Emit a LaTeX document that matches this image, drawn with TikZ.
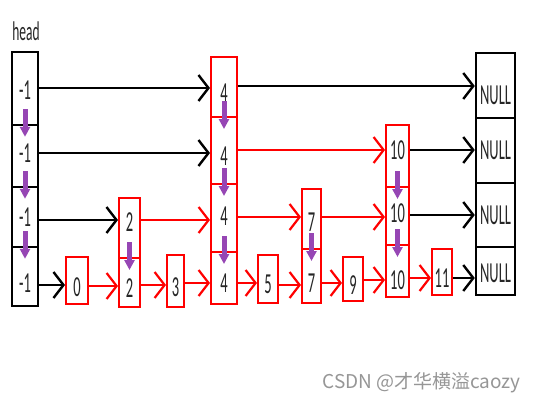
\documentclass[tikz,border=0pt]{standalone}
\usepackage{fontspec}
\setmainfont{Carlito}
\newfontfamily\lblfont{Carlito}[FakeStretch=0.5]
\newfontfamily\cjkfont{Noto Sans CJK SC}
\usetikzlibrary{arrows.meta,fit}
\definecolor{pur}{RGB}{150,70,180}
\definecolor{wm}{RGB}{150,150,150}
\begin{document}
\begin{tikzpicture}[x=0.5pt,y=-0.5pt,
  blkbox/.style={draw=black,line width=1.2pt,inner sep=0pt},
  redbox/.style={draw=red,line width=1pt,inner sep=0pt},
  lbl/.style={font=\lblfont\fontsize{14.5}{16}\selectfont,inner sep=0pt,text=black!85},
  blkarr/.style={draw=black,line width=1.2pt,-{Straight Barb[length=5pt,width=13pt]}},
  redarr/.style={draw=red,line width=1.1pt,-{Straight Barb[length=5pt,width=13pt]}},
  parr/.style={draw=pur,line width=2.5pt,-{Triangle[length=5pt,width=5pt]}},
]
\useasboundingbox (0,0) rectangle (536,402);
\fill[white] (0,0) rectangle (536,402);
% head column
\node[blkbox,fit={(12,52)(38,125)}] (h3) {};
\node[blkbox,fit={(12,125)(38,187)}] (h2) {};
\node[blkbox,fit={(12,187)(38,247)}] (h1) {};
\node[blkbox,fit={(12,247)(38,306)}] (h0) {};
% NULL column
\node[blkbox,fit={(476,53)(515,118)}] (n3) {};
\node[blkbox,fit={(476,118)(515,183)}] (n2) {};
\node[blkbox,fit={(476,183)(515,247)}] (n1) {};
\node[blkbox,fit={(476,247)(515,295)}] (n0) {};
% red nodes
\node[redbox,fit={(66,257)(88,304)}] (b0) {};
\node[redbox,fit={(119,198)(140,258)}] (c2a) {};
\node[redbox,fit={(119,258)(140,307)}] (c2b) {};
\node[redbox,fit={(167,255)(184,307)}] (b3) {};
\node[redbox,fit={(211,57)(237,117)}] (c4a) {};
\node[redbox,fit={(211,117)(237,184)}] (c4b) {};
\node[redbox,fit={(211,184)(237,252)}] (c4c) {};
\node[redbox,fit={(211,252)(237,304)}] (c4d) {};
\node[redbox,fit={(258,255)(278,303)}] (b5) {};
\node[redbox,fit={(302,189)(321,249)}] (c7a) {};
\node[redbox,fit={(302,249)(321,303)}] (c7b) {};
\node[redbox,fit={(343,257)(363,301)}] (b9) {};
\node[redbox,fit={(386,125)(409,187)}] (c10a) {};
\node[redbox,fit={(386,187)(409,245)}] (c10b) {};
\node[redbox,fit={(386,245)(409,297)}] (c10c) {};
\node[redbox,fit={(432,249)(452,295)}] (b11) {};
% labels
\node[lbl] (lh3) at (h3.center |- 0,90) {-1};
\node[lbl] (lh2) at (h2.center |- 0,153) {-1};
\node[lbl] (lh1) at (h1.center |- 0,217) {-1};
\node[lbl] (lh0) at (h0.center |- 0,283) {-1};
\node[lbl] (ln3) at (n3.center |- 0,95) {NULL};
\node[lbl] (ln2) at (n2.center |- 0,150) {NULL};
\node[lbl] (ln1) at (n1.center |- 0,215) {NULL};
\node[lbl] (ln0) at (n0.center |- 0,273) {NULL};
\node[lbl] (lb0) at (b0.center |- 0,287) {0};
\node[lbl] (lc2a) at (c2a.center |- 0,222) {2};
\node[lbl] (lc2b) at (c2b.center |- 0,288) {2};
\node[lbl] (lb3) at (b3.center |- 0,287) {3};
\node[lbl] (lc4a) at (c4a.center |- 0,93) {4};
\node[lbl] (lc4b) at (c4b.center |- 0,156) {4};
\node[lbl] (lc4c) at (c4c.center |- 0,216) {4};
\node[lbl] (lc4d) at (c4d.center |- 0,283) {4};
\node[lbl] (lb5) at (b5.center |- 0,284) {5};
\node[lbl] (lc7a) at (c7a.center |- 0,222) {7};
\node[lbl] (lc7b) at (c7b.center |- 0,283) {7};
\node[lbl] (lb9) at (b9.center |- 0,285) {9};
\node[lbl] (lc10a) at (c10a.center |- 0,150) {10};
\node[lbl] (lc10b) at (c10b.center |- 0,213) {10};
\node[lbl] (lc10c) at (c10c.center |- 0,280) {10};
\node[lbl] (lb11) at (b11.center |- 0,278) {11};
\node[font=\lblfont\fontsize{13.5}{15}\selectfont,inner sep=0pt,anchor=base west,text=black!85] (head) at (12,40) {head};
% level 3
\draw[blkarr] (h3.east |- 0,88) -- (c4a.west |- 0,88);
\draw[blkarr] (c4a.east |- 0,86) -- (n3.west |- 0,86);
% level 2
\draw[blkarr] (h2.east |- 0,153) -- (c4b.west |- 0,153);
\draw[redarr] (c4b.east |- 0,150) -- (c10a.west |- 0,150);
\draw[blkarr] (c10a.east |- 0,150) -- (n2.west |- 0,150);
% level 1
\draw[blkarr] (h1.east |- 0,220) -- (c2a.west |- 0,220);
\draw[redarr] (c2a.east |- 0,220) -- (c4c.west |- 0,220);
\draw[redarr] (c4c.east |- 0,217) -- (c7a.west |- 0,217);
\draw[redarr] (c7a.east |- 0,217) -- (c10b.west |- 0,217);
\draw[blkarr] (c10b.east |- 0,215) -- (n1.west |- 0,215);
% level 0
\draw[blkarr] (h0.east |- 0,285) -- (b0.west |- 0,285);
\draw[redarr] (b0.east |- 0,286) -- (c2b.west |- 0,286);
\draw[redarr] (c2b.east |- 0,285) -- (b3.west |- 0,285);
\draw[redarr] (b3.east |- 0,283) -- (c4d.west |- 0,283);
\draw[redarr] (c4d.east |- 0,283) -- (b5.west |- 0,283);
\draw[redarr] (b5.east |- 0,285) -- (c7b.west |- 0,285);
\draw[redarr] (c7b.east |- 0,283) -- (b9.west |- 0,283);
\draw[redarr] (b9.east |- 0,280) -- (c10c.west |- 0,280);
\draw[redarr] (c10c.east |- 0,278) -- (b11.west |- 0,278);
\draw[blkarr] (b11.east |- 0,278) -- (n0.west |- 0,278);
% purple down arrows
\foreach \a/\b in {h3/h2,h2/h1,h1/h0,c2a/c2b,c4a/c4b,c4b/c4c,c4c/c4d,c7a/c7b,c10a/c10b,c10b/c10c}
  \draw[parr] ([yshift=8.5pt]\a.south) -- ([yshift=-6.5pt]\b.north);
% watermark
\node[font=\cjkfont\fontsize{9.5}{11}\selectfont,text=wm,inner sep=0pt,anchor=base west] (wmk) at (322,388) {CSDN @才华横溢caozy};
\end{tikzpicture}
\end{document}
